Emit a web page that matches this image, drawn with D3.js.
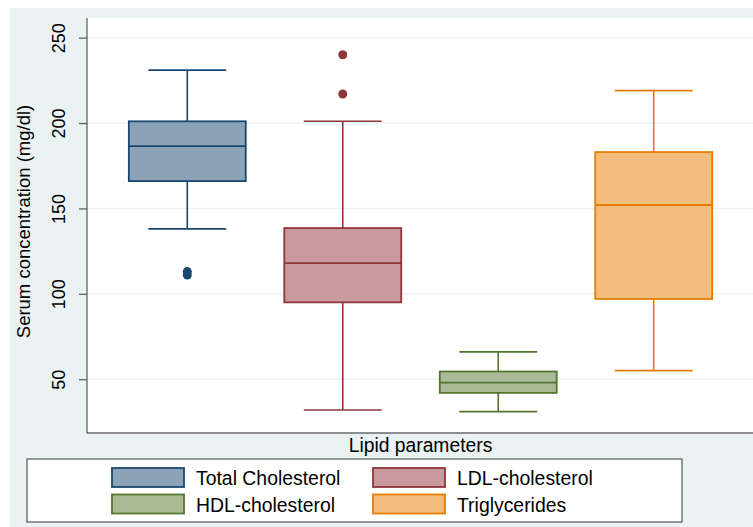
<!DOCTYPE html>
<html>
<head>
<meta charset="utf-8">
<script src="https://cdn.jsdelivr.net/npm/d3@7"></script>
<style>
  body { margin: 0; background: #fff; }
  text { font-family: "Liberation Sans", Arial, sans-serif; fill: #000; }
</style>
</head>
<body>
<div id="chart"></div>
<script>
// data
var groups = ["Total Cholesterol", "LDL-cholesterol", "HDL-cholesterol", "Triglycerides"];
var mins    = [138, 32, 31, 55];
var q1s     = [166, 95, 42, 97];
var medians = [186.5, 118, 48, 152];
var q3s     = [201, 138.5, 54.5, 183];
var maxs    = [231, 201, 66, 219];
var outliers = [[111, 113], [217, 240], [], []];
var yTicks = [50, 100, 150, 200, 250];

var strokeColors = ["#1a476f", "#90353b", "#55752f", "#e37e00"];
var fillColors   = ["#8ca3b7", "#c8999d", "#aaba97", "#f1be80"];

var svgWidth = 753;
var svgHeight = 527;

var margin = { top: 18, right: -1, bottom: 94, left: 87 };
var width = svgWidth - margin.left - margin.right;
var height = svgHeight - margin.top - margin.bottom;

var svg = d3.select("#chart")
  .append("svg")
  .attr("width", svgWidth)
  .attr("height", svgHeight);

// outer graph region
svg.append("rect")
  .attr("x", 10).attr("y", 8)
  .attr("width", svgWidth - 10).attr("height", svgHeight - 8)
  .attr("fill", "#eaf2f3");

var chartGroup = svg.append("g")
  .attr("transform", `translate(${margin.left}, ${margin.top})`);

chartGroup.append("rect")
  .attr("width", width + 10)
  .attr("height", height)
  .attr("fill", "#fff");

// scales
var xScale = d3.scalePoint()
  .domain(groups)
  .range([0, width])
  .padding(0.645);

var step = xScale.step();
var boxW = step * 0.752;
var capW = boxW * 2 / 3;

var yScale = d3.scaleLinear()
  .domain([18.5, 261.5])
  .range([height, 0]);

// gridlines
chartGroup.selectAll(".grid")
  .data(yTicks)
  .enter()
  .append("line")
  .attr("x1", 0)
  .attr("x2", width + 10)
  .attr("y1", d => yScale(d))
  .attr("y2", d => yScale(d))
  .attr("stroke", "#eaf2f3")
  .attr("stroke-width", 1.5);

// y axis
var leftAxis = d3.axisLeft(yScale)
  .tickValues(yTicks)
  .tickSize(8)
  .tickFormat(d3.format("d"));

var yAxis = chartGroup.append("g").call(leftAxis);
yAxis.select(".domain").attr("stroke", "#555").attr("stroke-width", 1.2)
  .attr("d", `M0,0V${height}`);
yAxis.selectAll(".tick line").attr("stroke", "#555").attr("stroke-width", 1.2);
yAxis.selectAll(".tick text")
  .attr("x", 0).attr("y", 0).attr("dy", null)
  .attr("transform", "translate(-22,0) rotate(-90)")
  .attr("text-anchor", "middle")
  .style("font-size", "18px")
  .style("font-family", "Liberation Sans, Arial, sans-serif");

// bottom line
chartGroup.append("line")
  .attr("x1", 0).attr("x2", width + 10)
  .attr("y1", height).attr("y2", height)
  .attr("stroke", "#222").attr("stroke-width", 1.2);

// boxes
groups.forEach(function(g, i) {
  var cx = xScale(g);
  var box = chartGroup.append("g");

  // whiskers
  box.append("line")
    .attr("x1", cx).attr("x2", cx)
    .attr("y1", yScale(q3s[i])).attr("y2", yScale(maxs[i]))
    .attr("stroke", strokeColors[i]).attr("stroke-width", 1.6);
  box.append("line")
    .attr("x1", cx).attr("x2", cx)
    .attr("y1", yScale(q1s[i])).attr("y2", yScale(mins[i]))
    .attr("stroke", strokeColors[i]).attr("stroke-width", 1.6);
  [mins[i], maxs[i]].forEach(function(v) {
    box.append("line")
      .attr("x1", cx - capW / 2).attr("x2", cx + capW / 2)
      .attr("y1", yScale(v)).attr("y2", yScale(v))
      .attr("stroke", strokeColors[i]).attr("stroke-width", 1.6);
  });

  box.append("rect")
    .attr("x", cx - boxW / 2)
    .attr("y", yScale(q3s[i]))
    .attr("width", boxW)
    .attr("height", yScale(q1s[i]) - yScale(q3s[i]))
    .attr("fill", fillColors[i])
    .attr("stroke", strokeColors[i])
    .attr("stroke-width", 1.8);

  box.append("line")
    .attr("x1", cx - boxW / 2).attr("x2", cx + boxW / 2)
    .attr("y1", yScale(medians[i])).attr("y2", yScale(medians[i]))
    .attr("stroke", strokeColors[i]).attr("stroke-width", 1.8);

  box.selectAll(".out")
    .data(outliers[i])
    .enter()
    .append("circle")
    .attr("cx", cx)
    .attr("cy", d => yScale(d))
    .attr("r", 4.5)
    .attr("fill", strokeColors[i]);
});

// axis titles
svg.append("text")
  .attr("transform", `translate(30, ${margin.top + height / 2 - 4}) rotate(-90)`)
  .attr("text-anchor", "middle")
  .style("font-size", "18.5px")
  .text("Serum concentration (mg/dl)");

svg.append("text")
  .attr("x", margin.left + (xScale(groups[0]) + xScale(groups[3])) / 2)
  .attr("y", 452)
  .attr("text-anchor", "middle")
  .style("font-size", "19.3px")
  .text("Lipid parameters");

// legend
var legend = svg.append("g");
legend.append("rect")
  .attr("x", 27).attr("y", 459)
  .attr("width", 655).attr("height", 63)
  .attr("fill", "#fff")
  .attr("stroke", "#555")
  .attr("stroke-width", 1.2);

var legX = [112, 373];
var legY = [468, 494.5];
groups.forEach(function(g, i) {
  var lx = legX[i % 2];
  var ly = legY[Math.floor(i / 2)];
  legend.append("rect")
    .attr("x", lx).attr("y", ly)
    .attr("width", 72).attr("height", 19)
    .attr("fill", fillColors[i])
    .attr("stroke", strokeColors[i])
    .attr("stroke-width", 1.8);
  legend.append("text")
    .attr("x", lx + 84)
    .attr("y", ly + 17)
    .style("font-size", "19.4px")
    .text(g);
});
</script>
</body>
</html>
